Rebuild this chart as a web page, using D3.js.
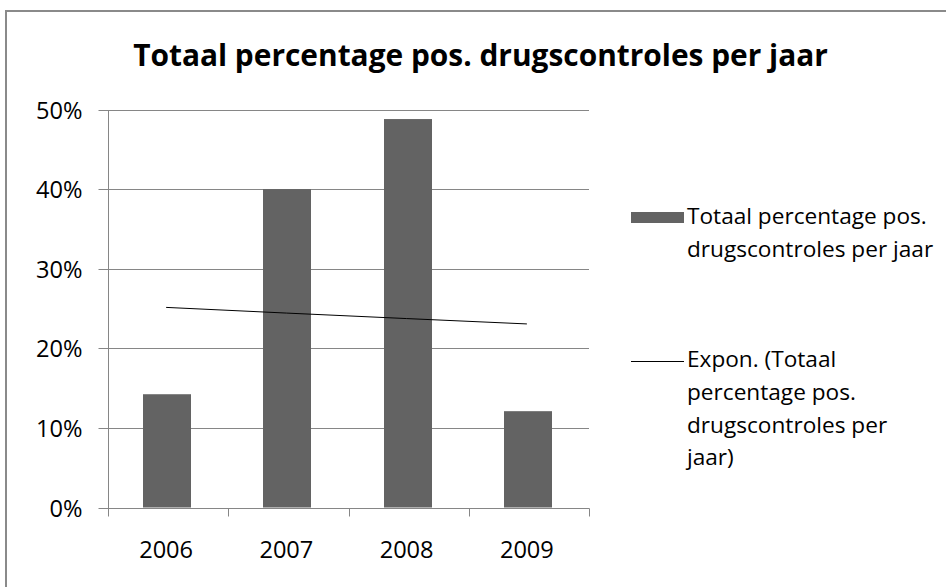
<!DOCTYPE html>
<html>
<head>
<meta charset="utf-8">
<script src="https://cdn.jsdelivr.net/npm/d3@7/dist/d3.min.js"></script>
<style>
  html, body { margin: 0; padding: 0; background: #fff; }
  svg { display: block; }
</style>
</head>
<body>
<svg id="chart" width="946" height="587"></svg>
<script>
// Yearly share of positive drug tests
const years = ["2006", "2007", "2008", "2009"];
const positiveShare = [0.1423, 0.400, 0.488, 0.121];
const yTicks = [0, 0.1, 0.2, 0.3, 0.4, 0.5];
const titleText = "Totaal percentage pos. drugscontroles per jaar";
const barLegend = ["Totaal percentage pos.", "drugscontroles per jaar"];
const trendLegend = ["Expon. (Totaal", "percentage pos.", "drugscontroles per", "jaar)"];

const FONT = "'Open Sans', 'Noto Sans', sans-serif";
const svg = d3.select("#chart");

// Pick a font size so that a string spans a given pixel width
function fitSize(str, width, weight) {
  const t = svg.append("text")
    .attr("font-family", FONT).attr("font-weight", weight || "normal")
    .attr("font-size", 100).text(str);
  const w = t.node().getComputedTextLength();
  t.remove();
  return 100 * width / w;
}

// Chart frame (continues past the right and bottom edges)
svg.append("rect")
  .attr("x", 6).attr("y", 11)
  .attr("width", 1000).attr("height", 1000)
  .attr("fill", "none").attr("stroke", "#8a8a8a").attr("stroke-width", 2);

// Title
svg.append("text")
  .attr("x", 480.5).attr("y", 66)
  .attr("text-anchor", "middle")
  .attr("font-family", FONT).attr("font-weight", "bold")
  .attr("font-size", fitSize(titleText, 695, "bold"))
  .attr("fill", "#000")
  .text(titleText);

// Plot scales
const x = d3.scaleBand().domain(years).range([108, 589]).paddingInner(0.6).paddingOuter(0.3);
const xBand = d3.scaleBand().domain(years).range([108, 589]);
const y = d3.scaleLinear().domain([0, 0.5]).range([507.5, 109.5]);

const axisColor = "#868686";
const labelSize = fitSize("2006", 54);

// Horizontal gridlines
svg.append("g").selectAll("line").data(yTicks.slice(1)).join("line")
  .attr("x1", 108).attr("x2", 589)
  .attr("y1", d => Math.round(y(d)) + 0.5).attr("y2", d => Math.round(y(d)) + 0.5)
  .attr("stroke", axisColor).attr("stroke-width", 1);

// Y axis with outward ticks
const yAxis = d3.axisLeft(y).tickValues(yTicks).tickFormat(d3.format(".0%"))
  .tickSize(10).tickPadding(16);
const gy = svg.append("g").attr("transform", "translate(108.5,0)").call(yAxis);
gy.select(".domain").attr("stroke", axisColor).attr("d", `M0,${Math.round(y(0.5)) + 0.5}V${Math.round(y(0)) + 0.5}`);
gy.selectAll(".tick line").attr("stroke", axisColor)
  .attr("transform", function () {
    return null;
  });
gy.selectAll(".tick").attr("transform", d => `translate(0,${Math.round(y(d)) + 0.5})`);
gy.selectAll(".tick text")
  .attr("font-family", FONT).attr("font-size", labelSize).attr("fill", "#000")
  .attr("dy", "0.36em");

// Bars
svg.append("g").selectAll("rect").data(positiveShare).join("rect")
  .attr("x", (d, i) => Math.round(xBand(years[i]) + (xBand.bandwidth() - 48) / 2) - 1)
  .attr("width", 48)
  .attr("y", d => y(d))
  .attr("height", d => y(0) - y(d))
  .attr("fill", "#636363");

// X axis: baseline plus tick marks on category boundaries
const gx = svg.append("g");
gx.append("line")
  .attr("x1", 108).attr("x2", 589.5)
  .attr("y1", Math.round(y(0)) + 0.5).attr("y2", Math.round(y(0)) + 0.5)
  .attr("stroke", axisColor);
const bounds = years.map(d => xBand(d)).concat([xBand.range()[1]]);
gx.selectAll("line.tk").data(bounds).join("line").attr("class", "tk")
  .attr("x1", d => Math.round(d) + 0.5).attr("x2", d => Math.round(d) + 0.5)
  .attr("y1", Math.round(y(0)) + 0.5).attr("y2", Math.round(y(0)) + 8.5)
  .attr("stroke", axisColor);
gx.selectAll("text").data(years).join("text")
  .attr("x", d => xBand(d) + xBand.bandwidth() / 2 - 2)
  .attr("y", 558)
  .attr("text-anchor", "middle")
  .attr("font-family", FONT).attr("font-size", labelSize).attr("fill", "#000")
  .text(d => d);

// Exponential trend line, least-squares fit of ln(value) on category index
const idx = years.map((d, i) => i + 1);
const lnv = positiveShare.map(v => Math.log(v));
const mx = d3.mean(idx), ml = d3.mean(lnv);
const b = d3.sum(idx.map((t, i) => (t - mx) * (lnv[i] - ml))) / d3.sum(idx.map(t => (t - mx) ** 2));
const a = Math.exp(ml - b * mx);
const trend = idx.map(t => a * Math.exp(b * t));
svg.append("path")
  .datum(trend)
  .attr("d", d3.line()
    .x((d, i) => xBand(years[i]) + xBand.bandwidth() / 2 - 2)
    .y(d => y(d)))
  .attr("fill", "none").attr("stroke", "#000").attr("stroke-width", 1);

// Legend
const legendSize = fitSize(barLegend[0], 240);
const lg = svg.append("g");
lg.append("rect").attr("x", 631).attr("y", 212).attr("width", 53).attr("height", 11).attr("fill", "#636363");
lg.append("text")
  .attr("font-family", FONT).attr("font-size", legendSize).attr("fill", "#000")
  .selectAll("tspan").data(barLegend).join("tspan")
  .attr("x", 687).attr("y", (d, i) => 224 + i * 32.5)
  .text(d => d);
lg.append("line").attr("x1", 631).attr("x2", 684).attr("y1", 361.5).attr("y2", 361.5)
  .attr("stroke", "#000").attr("stroke-width", 1);
lg.append("text")
  .attr("font-family", FONT).attr("font-size", legendSize).attr("fill", "#000")
  .selectAll("tspan").data(trendLegend).join("tspan")
  .attr("x", 687).attr("y", (d, i) => 367 + i * 32.8)
  .text(d => d);
</script>
</body>
</html>
